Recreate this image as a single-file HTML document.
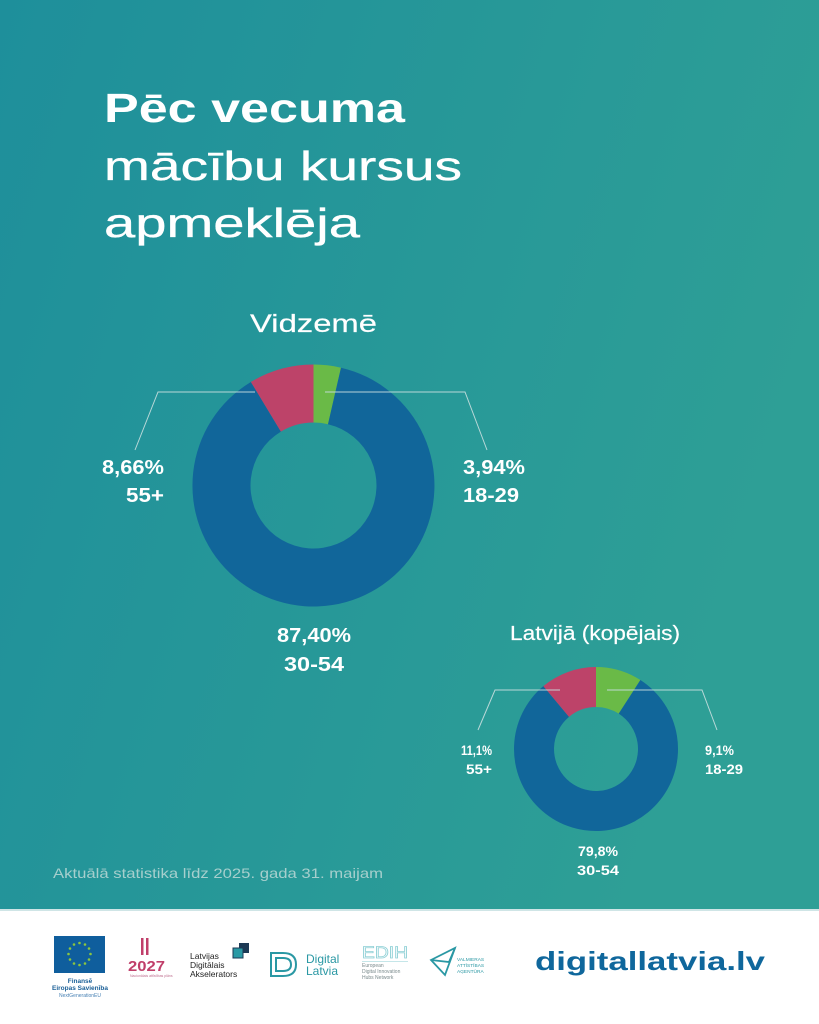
<!DOCTYPE html>
<html><head><meta charset="utf-8"><style>
html,body{margin:0;padding:0;background:#fff;}
svg{display:block;}
text{font-family:"Liberation Sans",sans-serif;}
</style></head><body>
<svg width="819" height="1024" viewBox="0 0 819 1024" xmlns="http://www.w3.org/2000/svg">
<defs>
<linearGradient id="bg" x1="0" y1="0" x2="1" y2="0.35">
<stop offset="0" stop-color="#1e8f9b"/>
<stop offset="1" stop-color="#2e9f96"/>
</linearGradient>
</defs>
<rect x="0" y="0" width="819" height="910" fill="url(#bg)"/>
<rect x="0" y="910" width="819" height="114" fill="#ffffff"/>
<rect x="0" y="909" width="819" height="2" fill="#cfe5e6"/>

<!-- Title -->
<text x="104" y="122" font-size="41" font-weight="bold" fill="#fff" textLength="301" lengthAdjust="spacingAndGlyphs">Pēc vecuma</text>
<text x="104" y="180" font-size="41" fill="#fff" stroke="#fff" stroke-width="0.35" textLength="358" lengthAdjust="spacingAndGlyphs">mācību kursus</text>
<text x="104" y="237" font-size="41" fill="#fff" stroke="#fff" stroke-width="0.35" textLength="256" lengthAdjust="spacingAndGlyphs">apmeklēja</text>

<text x="250" y="332" font-size="25" fill="#fff" stroke="#fff" stroke-width="0.2" textLength="127" lengthAdjust="spacingAndGlyphs">Vidzemē</text>

<!-- Big donut -->
<path d="M313.5 364.5 A121 121 0 0 1 341 367.7 L328 424.2 A63 63 0 0 0 313.5 422.5 Z" fill="#6aba47"/>
<path d="M341 367.7 A121 121 0 1 1 250.87 381.97 L280.89 431.6 A63 63 0 1 0 328 424.2 Z" fill="#11669a"/>
<path d="M250.87 381.97 A121 121 0 0 1 313.5 364.5 L313.5 422.5 A63 63 0 0 0 280.89 431.6 Z" fill="#bd4369"/>

<g stroke="#c9dfdf" stroke-width="1" fill="none" opacity="0.9">
<polyline points="255,392 158,392 135,450"/>
<polyline points="325,392 465,392 487,450"/>
</g>

<g font-weight="bold" fill="#fff" font-size="20">
<text x="102" y="474" textLength="62" lengthAdjust="spacingAndGlyphs">8,66%</text>
<text x="126" y="502" textLength="38" lengthAdjust="spacingAndGlyphs">55+</text>
<text x="463" y="474" textLength="62" lengthAdjust="spacingAndGlyphs">3,94%</text>
<text x="463" y="502" textLength="56" lengthAdjust="spacingAndGlyphs">18-29</text>
<text x="277" y="642" textLength="74" lengthAdjust="spacingAndGlyphs">87,40%</text>
<text x="284" y="671" textLength="60" lengthAdjust="spacingAndGlyphs">30-54</text>
</g>

<!-- Small donut -->
<text x="510" y="640" font-size="20" fill="#fff" stroke="#fff" stroke-width="0.2" textLength="170" lengthAdjust="spacingAndGlyphs">Latvijā (kopējais)</text>
<path d="M596 667 A82 82 0 0 1 640.37 680.04 L618.73 713.68 A42 42 0 0 0 596 707 Z" fill="#6aba47"/>
<path d="M640.37 680.04 A82 82 0 1 1 543.33 686.16 L569.02 716.82 A42 42 0 1 0 618.73 713.68 Z" fill="#11669a"/>
<path d="M543.33 686.16 A82 82 0 0 1 596 667 L596 707 A42 42 0 0 0 569.02 716.82 Z" fill="#bd4369"/>

<g stroke="#c9dfdf" stroke-width="1" fill="none" opacity="0.9">
<polyline points="560,690 495,690 478,730"/>
<polyline points="607,690 702,690 717,730"/>
</g>

<g font-weight="bold" fill="#fff" font-size="14">
<text x="461" y="755" textLength="31" lengthAdjust="spacingAndGlyphs">11,1%</text>
<text x="466" y="774" textLength="26" lengthAdjust="spacingAndGlyphs">55+</text>
<text x="705" y="755" textLength="29" lengthAdjust="spacingAndGlyphs">9,1%</text>
<text x="705" y="774" textLength="38" lengthAdjust="spacingAndGlyphs">18-29</text>
<text x="578" y="856" textLength="40" lengthAdjust="spacingAndGlyphs">79,8%</text>
<text x="577" y="875" textLength="42" lengthAdjust="spacingAndGlyphs">30-54</text>
</g>

<text x="53" y="878" font-size="14" fill="#a6cfcd" textLength="330" lengthAdjust="spacingAndGlyphs">Aktuālā statistika līdz 2025. gada 31. maijam</text>

<!-- Footer logos -->
<!-- EU -->
<rect x="54" y="936" width="51" height="37" fill="#0f5e9d"/>
<g fill="#8cc63f">
<circle cx="79.5" cy="943" r="1.3"/><circle cx="85" cy="944.5" r="1.3"/><circle cx="89" cy="948.5" r="1.3"/>
<circle cx="90.5" cy="954" r="1.3"/><circle cx="89" cy="959.5" r="1.3"/><circle cx="85" cy="963.5" r="1.3"/>
<circle cx="79.5" cy="965" r="1.3"/><circle cx="74" cy="963.5" r="1.3"/><circle cx="70" cy="959.5" r="1.3"/>
<circle cx="68.5" cy="954" r="1.3"/><circle cx="70" cy="948.5" r="1.3"/><circle cx="74" cy="944.5" r="1.3"/>
</g>
<text x="80" y="983" font-size="6.5" font-weight="bold" fill="#1a5f97" text-anchor="middle">Finansē</text>
<text x="80" y="990" font-size="6.5" font-weight="bold" fill="#1a5f97" text-anchor="middle">Eiropas Savienība</text>
<text x="80" y="997" font-size="5" fill="#4a83b5" text-anchor="middle">NextGenerationEU</text>

<!-- 2027 -->
<rect x="141" y="938" width="2.5" height="17" fill="#c03f6a"/>
<rect x="146" y="938" width="2.5" height="17" fill="#c03f6a"/>
<text x="128" y="971" font-size="15" font-weight="bold" fill="#c03f6a" textLength="37" lengthAdjust="spacingAndGlyphs">2027</text>
<text x="130" y="977" font-size="3.5" fill="#c07090">Nacionālais attīstības plāns</text>

<!-- LDA -->
<rect x="239" y="943" width="10" height="10" fill="#1d3a55"/>
<rect x="233" y="948" width="10" height="10" fill="#2a9aa5" stroke="#1d3a55" stroke-width="1"/>
<text x="190" y="959" font-size="8.5" fill="#222">Latvijas</text>
<text x="190" y="968" font-size="8.5" fill="#222">Digitālais</text>
<text x="190" y="977" font-size="8.5" fill="#222">Akselerators</text>

<!-- Digital Latvia -->
<g fill="none" stroke="#2a98a4" stroke-width="2">
<path d="M271 953 L283 953 Q296 953 296 964.5 Q296 976 283 976 L271 976 Z"/>
<path d="M276 958 L283 958 Q291 958 291 964.5 Q291 971 283 971 L276 971 Z"/>
</g>
<text x="306" y="963" font-size="12" fill="#2a98a4">Digital</text>
<text x="306" y="975" font-size="12" fill="#2a98a4">Latvia</text>

<!-- EDIH -->
<text x="362" y="958" font-size="17" fill="none" stroke="#8fd0d6" stroke-width="0.8" textLength="46" lengthAdjust="spacingAndGlyphs">EDIH</text>
<rect x="362" y="961" width="46" height="0.6" fill="#9ed6da"/>
<text x="362" y="967" font-size="5" fill="#7a8a8c">European</text>
<text x="362" y="973" font-size="5" fill="#7a8a8c">Digital Innovation</text>
<text x="362" y="979" font-size="5" fill="#7a8a8c">Hubs Network</text>

<!-- Valmieras -->
<g fill="none" stroke="#2a98a4" stroke-width="1.8">
<path d="M431 960 L455 948 L445 975 Z"/>
<path d="M431 960 L449 962 L455 948"/>
</g>
<text x="457" y="961" font-size="4.8" fill="#2a98a4">VALMIERAS</text>
<text x="457" y="967" font-size="4.8" fill="#2a98a4">ATTĪSTĪBAS</text>
<text x="457" y="973" font-size="4.8" fill="#2a98a4">AĢENTŪRA</text>

<text x="535" y="970" font-size="26" font-weight="bold" fill="#0f679c" textLength="230" lengthAdjust="spacingAndGlyphs">digitallatvia.lv</text>
</svg>
</body></html>
